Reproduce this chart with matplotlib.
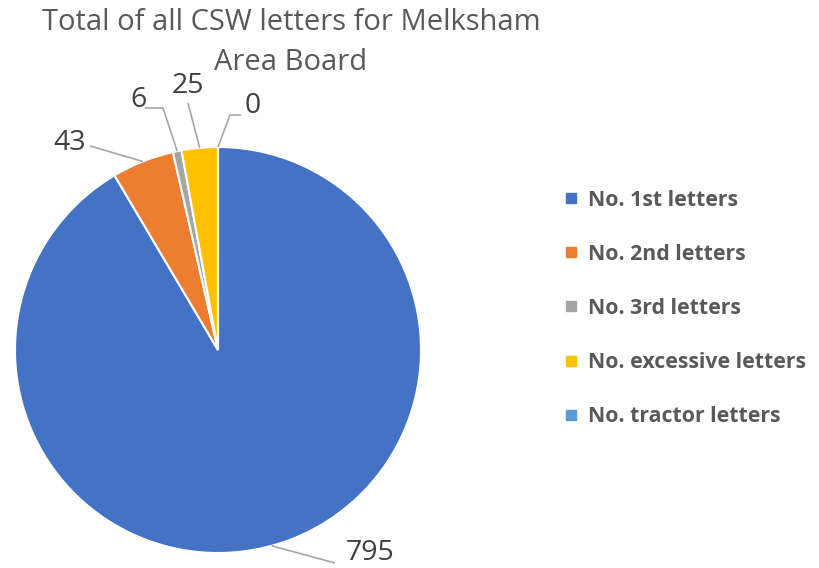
import numpy as np
import matplotlib
matplotlib.use("Agg")
import matplotlib.pyplot as plt
from matplotlib.lines import Line2D

categories = ["No. 1st letters", "No. 2nd letters", "No. 3rd letters",
              "No. excessive letters", "No. tractor letters"]
values = [795, 43, 6, 25, 0]
colors = ["#4472C4", "#ED7D31", "#A5A5A5", "#FFC000", "#5B9BD5"]
title_lines = ["Total of all CSW letters for Melksham", "Area Board"]

# layout (pixel coords, origin bottom-left)
W, H = 819, 568
cx, cy, R = 218, 218, 203
label_pos = [(370, 15), (70, 425), (138, 468), (188, 482), (253, 462)]
elbows = [(335, 5), (90, 422), [(145, 460), (163, 460)], (188, 465), [(241, 453), (230, 453)]]

fig = plt.figure(figsize=(W / 100, H / 100), dpi=100)
ax = fig.add_axes([0, 0, 1, 1])

wedges, _ = ax.pie(values, colors=colors, startangle=90, counterclock=False,
                   center=(cx, cy), radius=R, frame=True,
                   wedgeprops=dict(edgecolor="white", linewidth=1.5))
ax.set_xlim(0, W)
ax.set_ylim(0, H)
ax.set_aspect("equal")
ax.axis("off")

for w, v, lp, el in zip(wedges, values, label_pos, elbows):
    mid = np.deg2rad((w.theta1 + w.theta2) / 2)
    ex, ey = cx + R * np.cos(mid), cy + R * np.sin(mid)
    ax.text(lp[0], lp[1], str(v), ha="center", va="center", fontsize=20.5,
            color="#404040", family="Open Sans")
    pts = el if isinstance(el, list) else [el]
    xs = [p[0] for p in pts] + [ex]
    ys = [p[1] for p in pts] + [ey]
    ax.plot(xs, ys, color="#A6A6A6", lw=1.2, solid_capstyle="butt")

ax.text(291, 546, title_lines[0], ha="center", va="center",
        fontsize=21, color="#595959", family="Open Sans")
ax.text(291, 505, title_lines[1], ha="center", va="center",
        fontsize=21, color="#595959", family="Open Sans")

handles = [Line2D([0], [0], marker="s", linestyle="none", markersize=7,
                  markerfacecolor=c, markeredgecolor=c) for c in colors]
leg = ax.legend(handles, categories, loc="upper left", bbox_to_anchor=(555 / W, 1 - 181 / H),
                frameon=False, prop=dict(family="Open Sans", weight="bold", size=15.3),
                labelspacing=1.56, handlelength=0.7, handletextpad=0.45,
                borderaxespad=0)
for t in leg.get_texts():
    t.set_color("#595959")

fig.savefig("out.png", dpi=100)
